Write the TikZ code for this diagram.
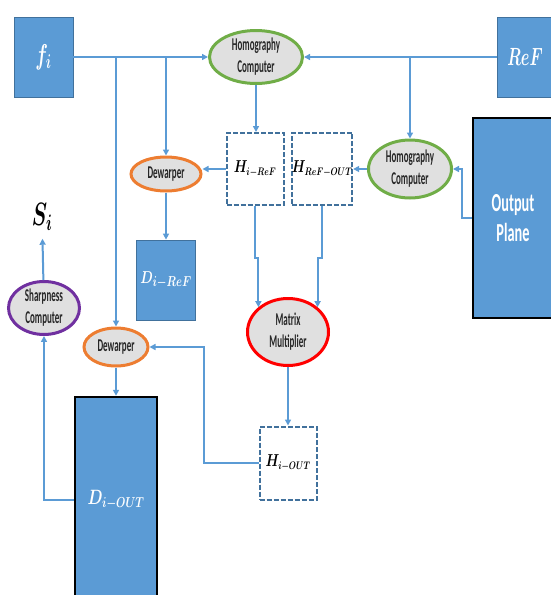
\documentclass[tikz,border=0pt]{standalone}
\usepackage{amsmath}
\usepackage{fontspec}
\setmainfont{Carlito}
\newfontfamily\ellfont[FakeStretch=0.5]{Carlito}
\newfontfamily\planefont[FakeStretch=0.55]{Carlito}
\usepackage{graphicx}
\usepackage{xcolor}
\usepackage{tikz}
\usetikzlibrary{positioning, arrows.meta, shapes.geometric}
\definecolor{boxblue}{HTML}{5B9BD5}
\definecolor{edgeblue}{HTML}{41719C}
\definecolor{lineblue}{HTML}{5B9BD5}
\definecolor{ellgray}{HTML}{E0E0E0}
\definecolor{compgreen}{HTML}{70AD47}
\definecolor{warporange}{HTML}{ED7D31}
\definecolor{multred}{HTML}{FF0000}
\definecolor{sharppurple}{HTML}{7030A0}
\newcommand{\mlbl}[2]{\scalebox{0.75}[1]{\fontsize{#1}{#1}\selectfont\boldmath$#2$}}

\begin{document}
\begin{tikzpicture}[
    x=1pt, y=-1pt,
    every node/.style={inner sep=0pt},
    imgbox/.style={rectangle, fill=boxblue, draw=edgeblue, line width=0.8pt, text=white},
    planebox/.style={rectangle, fill=boxblue, draw=black, line width=2.5pt, text=white},
    hbox/.style={rectangle, draw=edgeblue, dash pattern=on 5pt off 2pt, line width=2pt, fill=white},
    proc/.style={ellipse, fill=ellgray, line width=3pt, align=center, text=black!85,
        font=\ellfont\bfseries\fontsize{18}{22}\selectfont},
    link/.style={draw=lineblue, line width=2pt},
    arr/.style={link, -{Triangle[length=6pt,width=6pt]}}
]
\useasboundingbox (0,0) rectangle (551,595);

\node[imgbox, minimum width=59pt, minimum height=80pt] (fi) at (43.5,57) {\scalebox{1}[1.15]{\mlbl{24}{f_i}}};
\node[imgbox, minimum width=56pt, minimum height=80pt] (ref) at (525,57) {\scalebox{1}[1.2]{\mlbl{21}{ReF}}};
\node[proc, draw=compgreen, minimum width=93pt, minimum height=51pt] (hc1) at (256,57) {Homography\\Computer};
\node[hbox, minimum width=57pt, minimum height=72pt] (hiref) at (255,169) {\mlbl{16}{H_{i-ReF}}};
\node[hbox, minimum width=57pt, minimum height=72pt] (hrefout) at (322,169) {\mlbl{16}{H_{ReF-OUT}}};
\node[proc, draw=compgreen, minimum width=83pt, minimum height=58pt] (hc2) at (410,169) {Homography\\Computer};
\node[planebox, minimum width=80pt, minimum height=200pt, align=center,
    font=\planefont\bfseries\fontsize{26}{30}\selectfont] (out) at (513,218) {Output\\Plane};
\node[proc, draw=warporange, minimum width=70pt, minimum height=34pt] (dw1) at (166,174) {Dewarper};
\node[imgbox, minimum width=59pt, minimum height=80pt] (diref) at (166,280) {\mlbl{19}{D_{i-ReF}}};
\node[inner ysep=8pt] (si) at (42,217) {\scalebox{1.1}[1.3]{\mlbl{24}{S_i}}};
\node[proc, draw=sharppurple, minimum width=71pt, minimum height=51pt] (sc) at (44,308) {Sharpness\\Computer};
\node[proc, draw=warporange, minimum width=64pt, minimum height=38pt] (dw2) at (116,347) {Dewarper};
\node[proc, draw=multred, minimum width=81pt, minimum height=67pt] (mm) at (288,332) {Matrix\\Multiplier};
\node[hbox, minimum width=57pt, minimum height=73pt] (hiout) at (288,463) {\mlbl{16}{H_{i-OUT}}};
\node[planebox, minimum width=82pt, minimum height=206pt] (diout) at (116,500) {\mlbl{21}{D_{i-OUT}}};

\coordinate (b1) at (116,57);
\coordinate (b2) at (166,57);
\coordinate (b3) at (410,57);

\draw[arr] (fi) -- (hc1);
\draw[arr] (ref) -- (hc1);
\draw[arr] (b1) -- (dw2);
\draw[arr] (b2) -- (dw1);
\draw[arr] (b3) -- (hc2);
\draw[arr] (hc1.south) -- (hc1.south |- hiref.north);
\draw[arr] (hiref.west) -- (hiref.west -| dw1.east);
\draw[arr] (dw1) -- (diref);
\draw[arr] (hc2) -- (hrefout);
\draw[arr] (out.west) -- ++(-10,0) |- (hc2.east);
\draw[arr] (hiref.south) -- ++(0,52) -| (mm.140);
\draw[arr] (hrefout.south) -- ++(0,52) -| (mm.40);
\draw[arr] (mm) -- (hiout);
\draw[arr] (hiout.west) -- ++(-55,0) |- (dw2.east);
\draw[arr] (dw2) -- (diout);
\draw[arr] (diout.west) -| (sc.south);
\draw[arr] (sc) -- (si);
\end{tikzpicture}
\end{document}
